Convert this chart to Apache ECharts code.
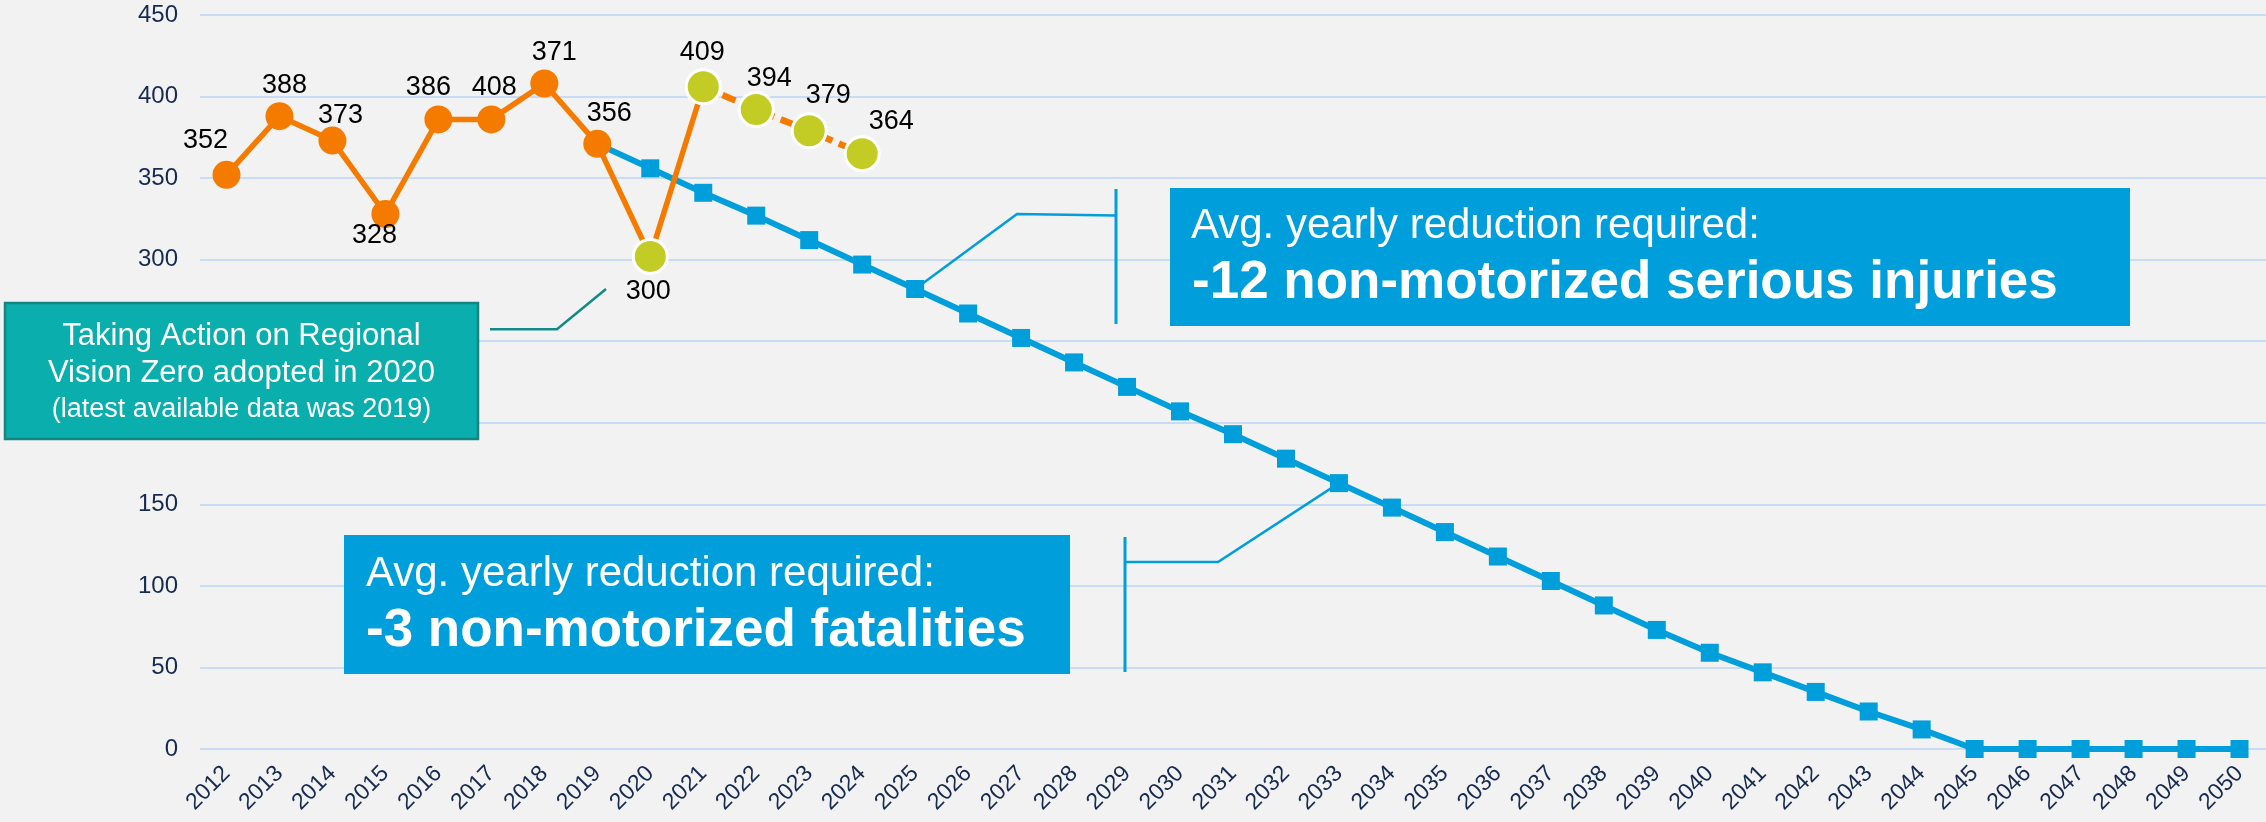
<!DOCTYPE html>
<html><head><meta charset="utf-8">
<script src="https://cdn.jsdelivr.net/npm/echarts@6/dist/echarts.min.js"></script>
<style>html,body{margin:0;padding:0;background:#F2F2F2}#c{width:2266px;height:822px}</style>
</head><body><div id="c"></div><script>
// ---- data ----
const years = ['2012','2013','2014','2015','2016','2017','2018','2019','2020','2021','2022','2023','2024','2025','2026','2027','2028','2029','2030','2031','2032','2033','2034','2035','2036','2037','2038','2039','2040','2041','2042','2043','2044','2045','2046','2047','2048','2049','2050'];
// observed serious injuries 2012-2021 (solid line)
const observed = [352, 388, 373, 328, 386, 386, 408, 371, 302, 406];
// recent years 2021-2024 (dashed line)
const recent = [406, 392, 379, 365];
// labels printed next to the points 2012-2024
const pointLabels = ['352','388','373','328','386','408','371','356','300','409','394','379','364'];
// target trajectory 2019-2050
const target = [371, 356, 341, 327, 312, 297, 282, 267, 252, 237, 222, 207, 193, 178, 163, 148, 133, 118, 103, 88, 73, 59, 47, 35, 23, 12, 0, 0, 0, 0, 0, 0];
const yTicks = [0, 50, 100, 150, 200, 250, 300, 350, 400, 450];

// ---- styles ----
const ORANGE = '#F47B00', GREEN = '#C3CC25', BLUE = '#009EDB', NAVY = '#172B50';
const FONT = "'Liberation Sans', Arial, sans-serif";
const labelOffsets = [[-21,-34],[5,-31],[8,-25],[-11,22],[-10,-32],[3,-32],[10,-31],[12,-30],[-2,35],[-1,-34],[13,-31],[19,-35],[29,-32]];

const recentStart = observed.length - 1; // index of 2021
const targetStart = years.indexOf('2019');

function markerItem(v, i, green, withLabel) {
  return { value: v,
    symbolSize: green ? 34 : 28,
    itemStyle: green ? { color: GREEN, borderColor: '#fff', borderWidth: 3 } : { color: ORANGE, borderWidth: 0 },
    label: { show: withLabel, position: 'inside', offset: labelOffsets[i], formatter: pointLabels[i],
             color: '#000', fontSize: 27, fontFamily: FONT }
  };
}

const obsData = years.map((y, i) => i < observed.length ? markerItem(observed[i], i, i >= 8, i < recentStart) : null);
const recData = years.map((y, i) => (i >= recentStart && i < recentStart + recent.length) ? markerItem(recent[i - recentStart], i, true, true) : null);
const tgtData = years.map((y, i) => i >= targetStart ? target[i - targetStart] : null);

const chart = echarts.init(document.getElementById('c'), null, { renderer: 'canvas' });
const option = {
  animation: false,
  backgroundColor: '#F2F2F2',
  grid: { left: 200, right: -3, top: 15, bottom: 73, containLabel: false },
  xAxis: { type: 'category', data: years, boundaryGap: true,
    axisLine: { show: false }, axisTick: { show: false },
    axisLabel: { rotate: 45, interval: 0, fontSize: 23, margin: 21, color: NAVY, fontFamily: FONT } },
  yAxis: { type: 'value', min: yTicks[0], max: yTicks[yTicks.length - 1], interval: 50,
    axisLine: { show: false }, axisTick: { show: false },
    axisLabel: { fontSize: 24, margin: 22, color: NAVY, fontFamily: FONT },
    splitLine: { lineStyle: { color: '#C8DCF6', width: 2 } } },
  series: [
    { type: 'line', name: 'Target', data: tgtData, symbol: 'rect', symbolSize: 18, z: 2,
      lineStyle: { color: BLUE, width: 6 }, itemStyle: { color: BLUE }, emphasis: { disabled: true } },
    { type: 'line', name: 'Observed', data: obsData, symbol: 'circle', z: 3,
      lineStyle: { color: ORANGE, width: 5.5 }, emphasis: { disabled: true } },
    { type: 'line', name: 'Recent', data: recData, symbol: 'circle', z: 4,
      lineStyle: { color: ORANGE, width: 6.5, type: [14, 7] }, emphasis: { disabled: true } }
  ]
};
chart.setOption(option);

const p2025 = chart.convertToPixel({ gridIndex: 0 }, [years.indexOf('2025'), target[years.indexOf('2025') - targetStart]]);
const p2033 = chart.convertToPixel({ gridIndex: 0 }, [years.indexOf('2033'), target[years.indexOf('2033') - targetStart]]);

const white = '#FFFFFF';
chart.setOption({
  graphic: { elements: [
    // connectors
    { type: 'polyline', z: 1, shape: { points: [p2025, [1017, 214], [1116, 215.5]] }, style: { stroke: BLUE, lineWidth: 2.5, fill: null } },
    { type: 'line', z: 1, shape: { x1: 1116, y1: 189, x2: 1116, y2: 324 }, style: { stroke: BLUE, lineWidth: 3 } },
    { type: 'polyline', z: 1, shape: { points: [p2033, [1218, 562], [1125, 562]] }, style: { stroke: BLUE, lineWidth: 2.5, fill: null } },
    { type: 'line', z: 1, shape: { x1: 1125, y1: 537, x2: 1125, y2: 672 }, style: { stroke: BLUE, lineWidth: 3 } },
    { type: 'polyline', z: 1, shape: { points: [[490, 329.3], [557, 329.3], [606, 289]] }, style: { stroke: '#138A86', lineWidth: 2.5, fill: null } },
    // serious injuries box
    { type: 'rect', z: 10, shape: { x: 1170, y: 188, width: 960, height: 138 }, style: { fill: BLUE } },
    { type: 'text', z: 11, x: 1191, y: 226, style: { text: 'Avg. yearly reduction required:', fill: white, font: '42px ' + FONT, verticalAlign: 'middle', align: 'left' } },
    { type: 'text', z: 11, x: 1192, y: 283.5, style: { text: '-12 non-motorized serious injuries', fill: white, font: 'bold 53px ' + FONT, verticalAlign: 'middle', align: 'left' } },
    // fatalities box
    { type: 'rect', z: 10, shape: { x: 344, y: 535, width: 726, height: 139 }, style: { fill: BLUE } },
    { type: 'text', z: 11, x: 366, y: 574.5, style: { text: 'Avg. yearly reduction required:', fill: white, font: '42px ' + FONT, verticalAlign: 'middle', align: 'left' } },
    { type: 'text', z: 11, x: 366, y: 631.5, style: { text: '-3 non-motorized fatalities', fill: white, font: 'bold 53px ' + FONT, verticalAlign: 'middle', align: 'left' } },
    // teal adoption box
    { type: 'rect', z: 10, shape: { x: 5, y: 303, width: 473, height: 136 }, style: { fill: '#0AAEAC', stroke: '#14857F', lineWidth: 2.5 } },
    { type: 'text', z: 11, x: 241.5, y: 336, style: { text: 'Taking Action on Regional', fill: white, font: '31px ' + FONT, verticalAlign: 'middle', align: 'center' } },
    { type: 'text', z: 11, x: 241.5, y: 373, style: { text: 'Vision Zero adopted in 2020', fill: white, font: '31px ' + FONT, verticalAlign: 'middle', align: 'center' } },
    { type: 'text', z: 11, x: 241.5, y: 410, style: { text: '(latest available data was 2019)', fill: white, font: '27px ' + FONT, verticalAlign: 'middle', align: 'center' } }
  ] }
});
</script></body></html>
